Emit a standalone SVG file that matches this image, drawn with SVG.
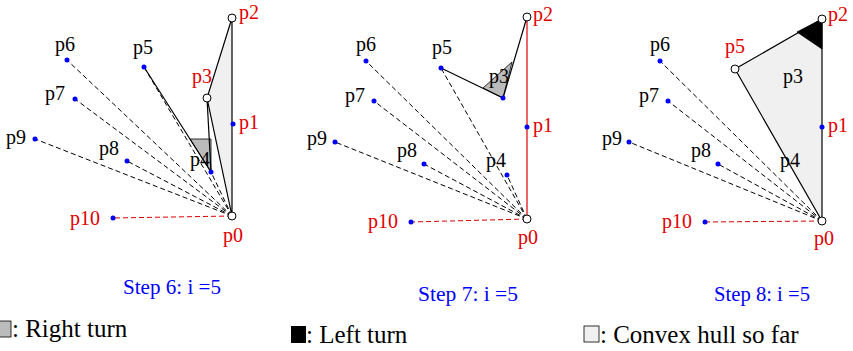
<svg xmlns="http://www.w3.org/2000/svg" width="853" height="351" viewBox="0 0 853 351">
<style>
.lbl{font-family:"Liberation Serif","Times New Roman",serif;font-size:20px;fill:#000}
.red{fill:#e00000}
.step{font-family:"Liberation Serif","Times New Roman",serif;font-size:21px;fill:#0000ff}
.leg{font-family:"Liberation Serif","Times New Roman",serif;font-size:25px;fill:#000}
.dash{stroke:#000;stroke-width:1;stroke-dasharray:5,3;fill:none}
.rdash{stroke:#e00000;stroke-width:1;stroke-dasharray:5,3;fill:none}
.edge{stroke:#000;stroke-width:1.2;fill:none}
.dot{fill:#0000ff}
.ring{fill:#fff;stroke:#000;stroke-width:1}
</style>
<rect width="853" height="351" fill="#fff"/>

<!-- Panel 1 -->
<g id="panel1">
<g id="p1-connectors">
<polygon points="232,216 232,18 207,98" fill="#f0f0f0" stroke="#000" stroke-width="1.2"/>
<polygon points="190,139 211,139 211,172" fill="#bbbbbb" stroke="#000" stroke-width="0.8"/>
<line class="dash" x1="232" y1="216" x2="67" y2="60"/>
<line class="dash" x1="232" y1="216" x2="75" y2="99"/>
<line class="dash" x1="232" y1="216" x2="35" y2="139"/>
<line class="dash" x1="232" y1="216" x2="127" y2="161"/>
<line class="dash" x1="232" y1="216" x2="144" y2="67"/>
<line class="dash" x1="232" y1="216" x2="211" y2="172"/>
<line class="rdash" x1="232" y1="216" x2="113" y2="218"/>
<line class="edge" x1="144" y1="67" x2="211" y2="172"/>
<line class="edge" x1="207" y1="98" x2="211" y2="172"/>
</g>
<g id="p1-p0"><circle class="ring" cx="232" cy="216" r="4"/><text class="lbl red" x="223" y="242">p0</text></g>
<g id="p1-p1"><circle class="dot" cx="233" cy="124" r="2.5"/><text class="lbl red" x="239" y="129">p1</text></g>
<g id="p1-p2"><circle class="ring" cx="232" cy="18" r="4"/><text class="lbl red" x="239" y="19">p2</text></g>
<g id="p1-p3"><circle class="ring" cx="207" cy="98" r="4"/><text class="lbl red" x="192" y="83">p3</text></g>
<g id="p1-p4"><circle class="dot" cx="211" cy="172" r="2.5"/><text class="lbl" x="190" y="166">p4</text></g>
<g id="p1-p5"><circle class="dot" cx="144" cy="67" r="2.5"/><text class="lbl" x="133" y="54">p5</text></g>
<g id="p1-p6"><circle class="dot" cx="67" cy="60" r="2.5"/><text class="lbl" x="55" y="51">p6</text></g>
<g id="p1-p7"><circle class="dot" cx="75" cy="99" r="2.5"/><text class="lbl" x="45" y="100">p7</text></g>
<g id="p1-p8"><circle class="dot" cx="127" cy="161" r="2.5"/><text class="lbl" x="99" y="155">p8</text></g>
<g id="p1-p9"><circle class="dot" cx="35" cy="139" r="2.5"/><text class="lbl" x="6" y="144">p9</text></g>
<g id="p1-p10"><circle class="dot" cx="113" cy="218" r="2.5"/><text class="lbl red" x="70" y="225">p10</text></g>
<text class="step" x="123" y="294" textLength="98" lengthAdjust="spacingAndGlyphs">Step 6: i =5</text>
</g>

<!-- Panel 2 -->
<g id="panel2">
<g id="p2-connectors">
<polygon points="503,98 512,62 483,88" fill="#bbbbbb" stroke="#000" stroke-width="0.8"/>
<line class="dash" x1="527" y1="219" x2="366" y2="61"/>
<line class="dash" x1="527" y1="219" x2="374" y2="101"/>
<line class="dash" x1="527" y1="219" x2="335" y2="142"/>
<line class="dash" x1="527" y1="219" x2="424" y2="164"/>
<line class="dash" x1="527" y1="219" x2="441" y2="68"/>
<line class="dash" x1="527" y1="219" x2="507" y2="175"/>
<line class="rdash" x1="527" y1="219" x2="411" y2="222"/>
<line x1="527" y1="219" x2="527" y2="17" stroke="#e00000" stroke-width="1.2"/>
<line class="edge" x1="527" y1="17" x2="503" y2="98"/>
<line class="edge" x1="441" y1="68" x2="503" y2="98"/>
</g>
<g id="p2-p0"><circle class="ring" cx="527" cy="219" r="4"/><text class="lbl red" x="518" y="244">p0</text></g>
<g id="p2-p1"><circle class="dot" cx="527" cy="127" r="2.5"/><text class="lbl red" x="533" y="132">p1</text></g>
<g id="p2-p2"><circle class="ring" cx="527" cy="17" r="4"/><text class="lbl red" x="533" y="21">p2</text></g>
<g id="p2-p3"><circle class="dot" cx="503" cy="98" r="2.5"/><text class="lbl" x="489" y="83">p3</text></g>
<g id="p2-p4"><circle class="dot" cx="507" cy="175" r="2.5"/><text class="lbl" x="486" y="167">p4</text></g>
<g id="p2-p5"><circle class="dot" cx="441" cy="68" r="2.5"/><text class="lbl" x="432" y="54">p5</text></g>
<g id="p2-p6"><circle class="dot" cx="366" cy="61" r="2.5"/><text class="lbl" x="356" y="51">p6</text></g>
<g id="p2-p7"><circle class="dot" cx="374" cy="101" r="2.5"/><text class="lbl" x="345" y="102">p7</text></g>
<g id="p2-p8"><circle class="dot" cx="424" cy="164" r="2.5"/><text class="lbl" x="397" y="157">p8</text></g>
<g id="p2-p9"><circle class="dot" cx="335" cy="142" r="2.5"/><text class="lbl" x="307" y="145">p9</text></g>
<g id="p2-p10"><circle class="dot" cx="411" cy="222" r="2.5"/><text class="lbl red" x="368" y="228">p10</text></g>
<text class="step" x="418" y="301" textLength="100" lengthAdjust="spacingAndGlyphs">Step 7: i =5</text>
</g>

<!-- Panel 3 -->
<g id="panel3">
<g id="p3-connectors">
<polygon points="822,221 822,19 735,69" fill="#f0f0f0" stroke="#000" stroke-width="1.2"/>
<polygon points="822,19 797,32 822,49" fill="#000" stroke="#000" stroke-width="0.8"/>
<line class="dash" x1="822" y1="221" x2="660" y2="61"/>
<line class="dash" x1="822" y1="221" x2="668" y2="101"/>
<line class="dash" x1="822" y1="221" x2="629" y2="142"/>
<line class="dash" x1="822" y1="221" x2="718" y2="164"/>
<line class="rdash" x1="822" y1="221" x2="705" y2="222"/>
</g>
<g id="p3-p0"><circle class="ring" cx="822" cy="221" r="4"/><text class="lbl red" x="814" y="245">p0</text></g>
<g id="p3-p1"><circle class="dot" cx="822" cy="127" r="2.5"/><text class="lbl red" x="828" y="132">p1</text></g>
<g id="p3-p2"><circle class="ring" cx="822" cy="19" r="4"/><text class="lbl red" x="828" y="21">p2</text></g>
<g id="p3-p3"><text class="lbl" x="783" y="83">p3</text></g>
<g id="p3-p4"><text class="lbl" x="780" y="167">p4</text></g>
<g id="p3-p5"><circle class="ring" cx="735" cy="69" r="4"/><text class="lbl red" x="725" y="53">p5</text></g>
<g id="p3-p6"><circle class="dot" cx="660" cy="61" r="2.5"/><text class="lbl" x="650" y="51">p6</text></g>
<g id="p3-p7"><circle class="dot" cx="668" cy="101" r="2.5"/><text class="lbl" x="639" y="102">p7</text></g>
<g id="p3-p8"><circle class="dot" cx="718" cy="164" r="2.5"/><text class="lbl" x="691" y="157">p8</text></g>
<g id="p3-p9"><circle class="dot" cx="629" cy="142" r="2.5"/><text class="lbl" x="602" y="145">p9</text></g>
<g id="p3-p10"><circle class="dot" cx="705" cy="222" r="2.5"/><text class="lbl red" x="662" y="228">p10</text></g>
<text class="step" x="714" y="301" textLength="96" lengthAdjust="spacingAndGlyphs">Step 8: i =5</text>
</g>

<!-- Legend -->
<g id="legend">
<rect x="-4" y="321" width="15" height="16" fill="#bbbbbb" stroke="#000" stroke-width="0.8"/>
<text class="leg" x="12" y="337">: Right turn</text>
<rect x="291" y="326" width="15" height="17" fill="#000"/>
<text class="leg" x="306" y="343">: Left turn</text>
<rect x="584" y="326" width="15" height="16" fill="#f0f0f0" stroke="#000" stroke-width="0.8"/>
<text class="leg" x="600" y="343">: Convex hull so far</text>
</g>
</svg>
